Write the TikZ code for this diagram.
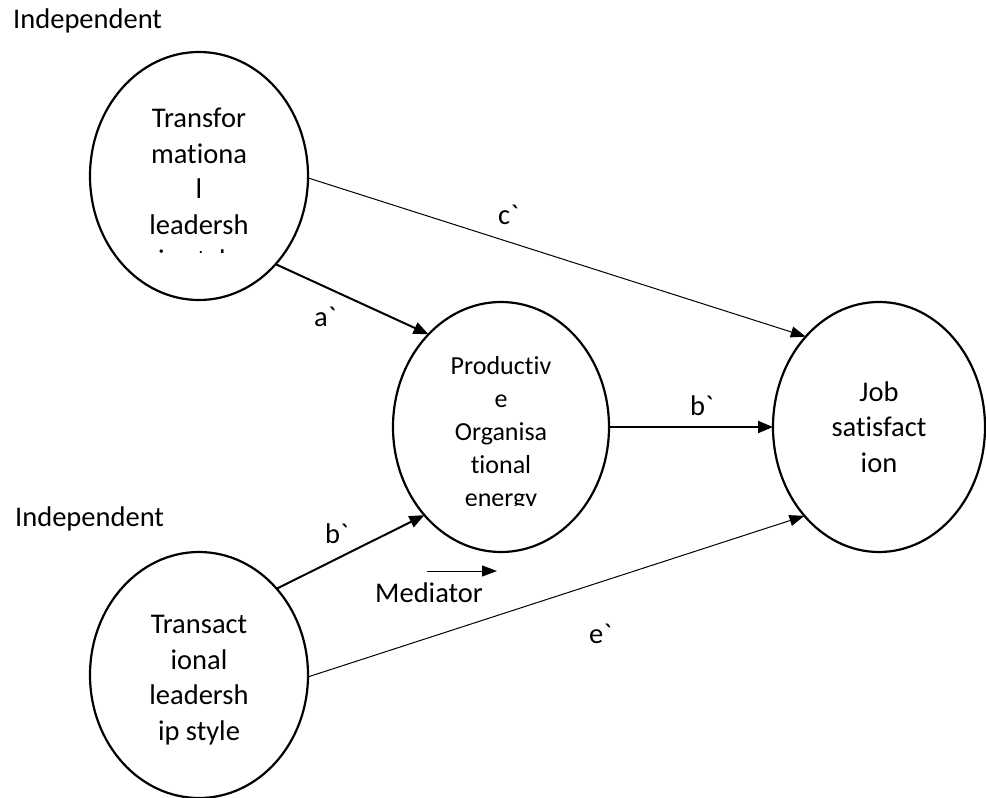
\documentclass[tikz,border=0pt]{standalone}
\usepackage{fontspec}
\setmainfont[Ligatures={TeXOff,NoCommon}]{Carlito}
\usetikzlibrary{shapes.geometric,arrows.meta}
\begin{document}
\begin{tikzpicture}[x=1pt,y=-1pt,
  oval/.style={ellipse,draw,line width=2.2pt,inner sep=0pt,outer sep=0pt},
  body/.style={align=center,inner sep=0pt,anchor=base,font=\fontsize{28.5}{35.5}\selectfont},
  smallbody/.style={align=center,inner sep=0pt,anchor=base,font=\fontsize{26}{33}\selectfont},
  lbl/.style={inner sep=0pt,anchor=base west,font=\fontsize{28.5}{35}\selectfont},
  thinarrow/.style={line width=1pt,-{Triangle[length=15pt,width=11pt]}},
  thickarrow/.style={line width=2pt,-{Triangle[length=15pt,width=12pt]}}]
\useasboundingbox (0,0) rectangle (986,798);

% the four constructs
\node[oval,minimum width=218pt,minimum height=248pt] (tf) at (199,176) {};
\node[oval,minimum width=216pt,minimum height=250pt] (poe) at (501,427) {};
\node[oval,minimum width=218pt,minimum height=246pt] (ta) at (199,675) {};
\node[oval,minimum width=212pt,minimum height=250pt] (js) at (879,427) {};

% texts inside the ovals (placed by the baseline of their last line),
% cut off where the text box ends
\begin{scope}
  \clip (100,60) rectangle (300,252.5);
  \node[body] (tftext) at (199,269.5) {Transfor\\mationa\\l\\leadersh\\ip style};
\end{scope}
\begin{scope}
  \clip (400,320) rectangle (600,505);
  \node[smallbody] (poetext) at (501,506) {Productiv\\e\\Organisa\\tional\\energy};
\end{scope}
\node[body] (tatext) at (199,740) {Transact\\ional\\leadersh\\ip style};
\node[body] (jstext) at (879,472) {Job\\satisfact\\ion};

% side labels
\node[lbl] (ind1) at (13,28) {Independent};
\node[lbl] (ind2) at (15,526) {Independent};
\node[lbl] (med) at (375,602) {Mediator};

% paths
\draw[thinarrow] (tf.-1) -- (js.129);
\draw[thickarrow] (tf.-49.5) -- (poe.128);
\draw[thickarrow] (poe.east) -- (js.west);
\draw[thickarrow] (ta.48.5) -- (poe.-131);
\draw[thinarrow] (ta.-1) -- (js.-130);

\coordinate (m1) at (427,571);
\coordinate (m2) at (497,571);
\draw[thinarrow] (m1) -- (m2);

% path labels
\node[lbl] (lc) at (498,224) {c\symbol{96}};
\node[lbl] (la) at (314,326) {a\symbol{96}};
\node[lbl] (lb1) at (690,415) {b\symbol{96}};
\node[lbl] (lb2) at (325,543) {b\symbol{96}};
\node[lbl] (le) at (589,643) {e\symbol{96}};
\end{tikzpicture}
\end{document}
